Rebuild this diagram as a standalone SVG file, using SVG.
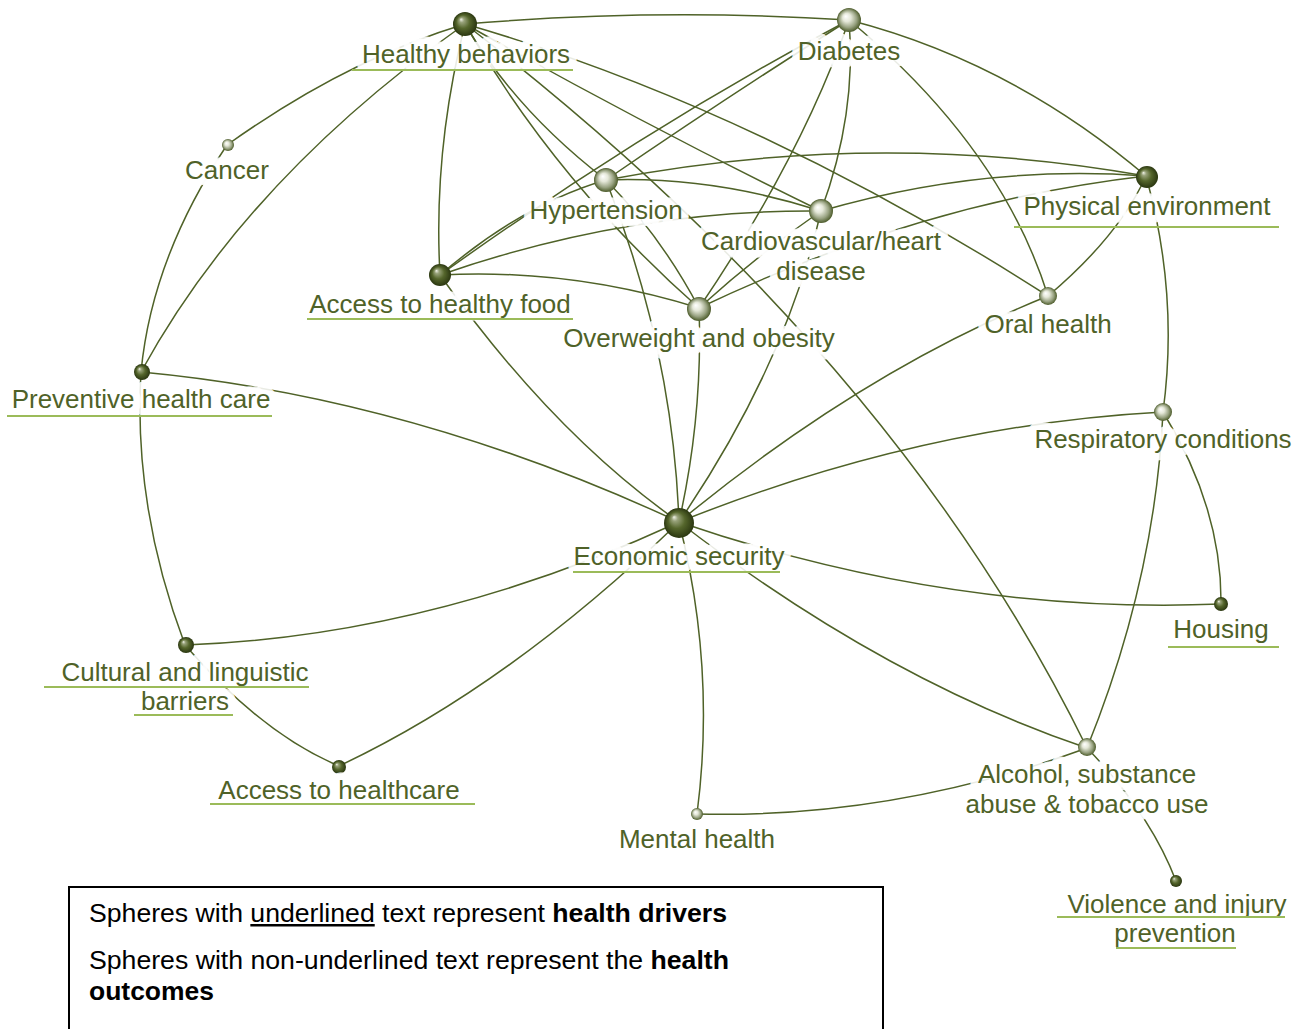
<svg xmlns="http://www.w3.org/2000/svg" width="1296" height="1029" viewBox="0 0 1296 1029">
<defs>
<radialGradient id="gDark" cx="0.5" cy="0.5" r="0.5" fx="0.33" fy="0.3">
<stop offset="0" stop-color="#f2f4ea"/>
<stop offset="0.2" stop-color="#98a27a"/>
<stop offset="0.55" stop-color="#55662c"/>
<stop offset="1" stop-color="#2a3610"/>
</radialGradient>
<radialGradient id="gLight" cx="0.5" cy="0.5" r="0.5" fx="0.36" fy="0.34">
<stop offset="0" stop-color="#ffffff"/>
<stop offset="0.35" stop-color="#e4e7d8"/>
<stop offset="0.72" stop-color="#98a281"/>
<stop offset="1" stop-color="#4c5b2a"/>
</radialGradient>
<style>
.c{fill:none;stroke:#4f6228;stroke-width:1.5}
.lbl{font-family:"Liberation Sans",Arial,sans-serif;font-size:26px;fill:#4f6228;text-anchor:middle;stroke:#ffffff;stroke-width:15;stroke-opacity:0.9;stroke-linejoin:round;paint-order:stroke}
.ul{stroke:#9bbb59;stroke-width:2.2}
.dk{fill:url(#gDark)}
.lt{fill:url(#gLight)}
.lg{font-family:"Liberation Sans Narrow","Liberation Sans",Arial,sans-serif;font-size:25px;fill:#000000}
</style>
</defs>
<rect width="1296" height="1029" fill="#ffffff"/>
<g id="connectors">
<path class="c" d="M465,24 Q657,8 849,20"/>
<path class="c" d="M465,24 Q346,60 227,145"/>
<path class="c" d="M465,24 Q247,178 141,372"/>
<path class="c" d="M465,24 Q433,151 440,275"/>
<path class="c" d="M465,24 Q515,110 606,180"/>
<path class="c" d="M465,24 Q558,184 699,308"/>
<path class="c" d="M465,24 Q650,128 821,211"/>
<path class="c" d="M465,24 Q755,108 1048,296"/>
<path class="c" d="M465,24 Q894,354 1087,748"/>
<path class="c" d="M849,20 Q1012,62 1146,176"/>
<path class="c" d="M849,20 Q1001,146 1048,296"/>
<path class="c" d="M849,20 Q857,114 821,211"/>
<path class="c" d="M849,20 Q802,156 699,308"/>
<path class="c" d="M849,20 Q730,95 606,180"/>
<path class="c" d="M849,20 Q645,128 440,275"/>
<path class="c" d="M606,180 Q712,176 821,211"/>
<path class="c" d="M606,180 Q876,128 1146,176"/>
<path class="c" d="M606,180 Q523,204 440,275"/>
<path class="c" d="M606,180 Q661,236 699,308"/>
<path class="c" d="M606,180 Q673,351 679,522"/>
<path class="c" d="M821,211 Q982,164 1146,176"/>
<path class="c" d="M821,211 Q629,209 440,275"/>
<path class="c" d="M821,211 Q760,253 699,308"/>
<path class="c" d="M821,211 Q786,365 679,522"/>
<path class="c" d="M699,308 Q921,202 1146,176"/>
<path class="c" d="M699,308 Q570,268 440,275"/>
<path class="c" d="M699,308 Q703,415 679,522"/>
<path class="c" d="M1146,176 Q1119,236 1048,296"/>
<path class="c" d="M1146,176 Q1179,294 1163,412"/>
<path class="c" d="M1048,296 Q862,371 679,522"/>
<path class="c" d="M440,275 Q552,433 679,522"/>
<path class="c" d="M141,372 Q152,257 227,145"/>
<path class="c" d="M141,372 Q410,397 679,522"/>
<path class="c" d="M141,372 Q133,507 185,645"/>
<path class="c" d="M1163,412 Q921,425 679,522"/>
<path class="c" d="M1163,412 Q1222,508 1221,604"/>
<path class="c" d="M1163,412 Q1155,580 1087,748"/>
<path class="c" d="M679,522 Q950,615 1221,604"/>
<path class="c" d="M679,522 Q883,679 1087,748"/>
<path class="c" d="M679,522 Q716,668 697,814"/>
<path class="c" d="M679,522 Q509,686 339,766"/>
<path class="c" d="M679,522 Q432,636 185,645"/>
<path class="c" d="M185,645 Q262,734 339,766"/>
<path class="c" d="M697,814 Q892,819 1087,748"/>
<path class="c" d="M1087,748 Q1150,813 1176,881"/>
</g>
<g id="node-healthy-behaviors">
<circle class="dk" cx="465" cy="24" r="12"/>
<text class="lbl" x="466" y="63">Healthy behaviors</text>
<line class="ul" x1="352" y1="70" x2="573" y2="70"/>
</g>
<g id="node-diabetes">
<circle class="lt" cx="849" cy="20" r="12"/>
<text class="lbl" x="849" y="60">Diabetes</text>
</g>
<g id="node-cancer">
<circle class="lt" cx="228" cy="145" r="6"/>
<text class="lbl" x="227" y="179">Cancer</text>
</g>
<g id="node-hypertension">
<circle class="lt" cx="606" cy="180" r="12"/>
<text class="lbl" x="606" y="219">Hypertension</text>
</g>
<g id="node-cardiovascular">
<circle class="lt" cx="821" cy="211" r="12"/>
<text class="lbl" x="821" y="250">Cardiovascular/heart</text>
<text class="lbl" x="821" y="280">disease</text>
</g>
<g id="node-physical-environment">
<circle class="dk" cx="1147" cy="177" r="11"/>
<text class="lbl" x="1147" y="215">Physical environment</text>
<line class="ul" x1="1014" y1="227" x2="1279" y2="227"/>
</g>
<g id="node-access-healthy-food">
<circle class="dk" cx="440" cy="275" r="11"/>
<text class="lbl" x="440" y="313">Access to healthy food</text>
<line class="ul" x1="307" y1="319" x2="573" y2="319"/>
</g>
<g id="node-overweight">
<circle class="lt" cx="699" cy="309" r="12"/>
<text class="lbl" x="699" y="347">Overweight and obesity</text>
</g>
<g id="node-oral-health">
<circle class="lt" cx="1048" cy="296" r="9"/>
<text class="lbl" x="1048" y="333">Oral health</text>
</g>
<g id="node-preventive">
<circle class="dk" cx="142" cy="372" r="8"/>
<text class="lbl" x="141" y="408">Preventive health care</text>
<line class="ul" x1="7" y1="416" x2="272" y2="416"/>
</g>
<g id="node-respiratory">
<circle class="lt" cx="1163" cy="412" r="9"/>
<text class="lbl" x="1163" y="448">Respiratory conditions</text>
</g>
<g id="node-economic-security">
<circle class="dk" cx="679" cy="523" r="15"/>
<text class="lbl" x="679" y="565">Economic security</text>
<line class="ul" x1="573" y1="572" x2="780" y2="572"/>
</g>
<g id="node-housing">
<circle class="dk" cx="1221" cy="604" r="7"/>
<text class="lbl" x="1221" y="638">Housing</text>
<line class="ul" x1="1168" y1="647" x2="1279" y2="647"/>
</g>
<g id="node-cultural">
<circle class="dk" cx="186" cy="645" r="8"/>
<text class="lbl" x="185" y="681">Cultural and linguistic</text>
<text class="lbl" x="185" y="710">barriers</text>
<line class="ul" x1="44" y1="687" x2="309" y2="687"/>
<line class="ul" x1="134" y1="715" x2="233" y2="715"/>
</g>
<g id="node-access-healthcare">
<circle class="dk" cx="339" cy="767" r="7"/>
<text class="lbl" x="339" y="799">Access to healthcare</text>
<line class="ul" x1="210" y1="804" x2="475" y2="804"/>
</g>
<g id="node-mental-health">
<circle class="lt" cx="697" cy="814" r="6"/>
<text class="lbl" x="697" y="848">Mental health</text>
</g>
<g id="node-alcohol">
<circle class="lt" cx="1087" cy="747" r="9"/>
<text class="lbl" x="1087" y="783">Alcohol, substance</text>
<text class="lbl" x="1087" y="813">abuse &amp; tobacco use</text>
</g>
<g id="node-violence">
<circle class="dk" cx="1176" cy="881" r="6"/>
<text class="lbl" x="1177" y="913">Violence and injury</text>
<text class="lbl" x="1175" y="942">prevention</text>
<line class="ul" x1="1057" y1="917" x2="1285" y2="917"/>
<line class="ul" x1="1116" y1="948" x2="1236" y2="948"/>
</g>
<g id="legend">
<rect x="69" y="887" width="814" height="170" fill="#ffffff" stroke="#000000" stroke-width="2"/>
<text class="lg" x="89" y="922" textLength="638" lengthAdjust="spacingAndGlyphs">Spheres with <tspan text-decoration="underline">underlined</tspan> text represent <tspan font-weight="bold">health drivers</tspan></text>
<text class="lg" x="89" y="969" textLength="640" lengthAdjust="spacingAndGlyphs">Spheres with non-underlined text represent the <tspan font-weight="bold">health</tspan></text>
<text class="lg" x="89" y="1000" font-weight="bold" textLength="125" lengthAdjust="spacingAndGlyphs">outcomes</text>
</g>
</svg>
